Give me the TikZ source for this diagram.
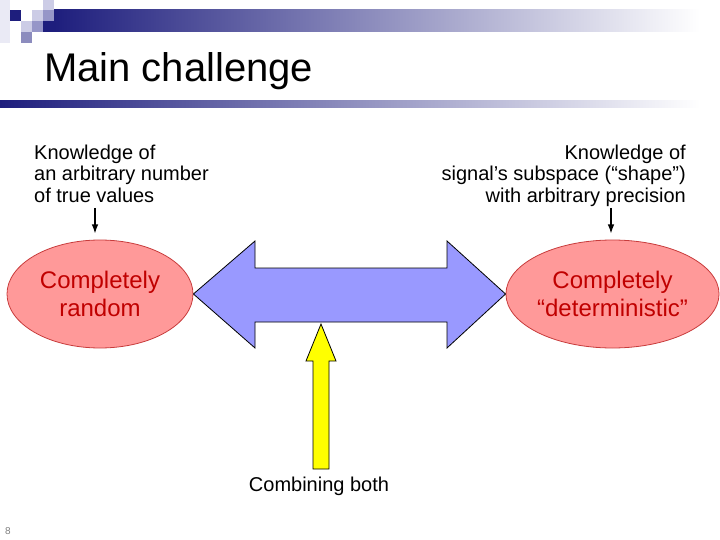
\documentclass[tikz,border=0pt]{standalone}
\usepackage{fontspec}
\setmainfont{Liberation Sans}
\usetikzlibrary{shapes.geometric,arrows.meta}
\definecolor{navy}{RGB}{30,30,125}
\definecolor{lav}{RGB}{204,204,230}
\definecolor{midlav}{RGB}{150,150,200}
\definecolor{greylav}{RGB}{140,140,190}
\definecolor{pale}{RGB}{234,234,245}
\definecolor{ellfill}{RGB}{255,153,153}
\definecolor{elldraw}{RGB}{200,60,60}
\definecolor{elltext}{RGB}{192,0,0}
\definecolor{bluearr}{RGB}{153,153,255}
\definecolor{yellarr}{RGB}{255,255,0}
\begin{document}
\begin{tikzpicture}[x=1pt,y=-1pt,
  ell/.style={ellipse,draw=elldraw,line width=0.8pt,fill=ellfill,inner sep=0pt,
    text=elltext,align=center,font=\fontsize{24}{28}\selectfont},
  know/.style={inner sep=0pt,font=\fontsize{20}{21.5}\selectfont},
  smallarr/.style={line width=1.2pt,-{Latex[length=9pt,width=6.5pt]}},
  bigarr/.style={draw=black,line width=0.8pt,line join=miter}]
\useasboundingbox (0,0) rectangle (720,540);
% header decoration
\fill[pale] (0,0) rectangle (10,43);
\fill[navy] (10,10) rectangle (21,21);
\fill[lav] (32,10) rectangle (43,21);
\fill[lav] (43,0) rectangle (54,10);
\fill[midlav] (43,10) rectangle (54,21);
\fill[lav] (21,21) rectangle (32,32);
\fill[midlav] (32,21) rectangle (43,32);
\fill[navy] (43,21) rectangle (54,32);
\fill[greylav] (21,32) rectangle (32,43);
\shade[left color=navy,right color=white] (54,10) rectangle (700,32);
\shade[left color=navy,right color=white] (0,101) rectangle (700,108);
% title
\node[anchor=base west,inner sep=0pt,font=\fontsize{40}{44}\selectfont] (title) at (44,82) {Main challenge};
% knowledge texts
\node[know,anchor=north west,align=left] (lt) at (34,144.5) {Knowledge of\\an arbitrary number\\of true values};
\node[know,anchor=north east,align=right] (rt) at (686,144.5) {Knowledge of\\signal’s subspace (“shape”)\\with arbitrary precision};
% ellipses
\node[ell,minimum width=186pt,minimum height=108pt] (le) at (100,294) {Completely\\random};
\node[ell,minimum width=205pt,minimum height=108pt] (re) at (612.5,294) {Completely\\“deterministic”};
% small arrows
\coordinate (la) at (95,208);
\coordinate (ra) at (611,208);
\draw[smallarr] (la) -- (95,233.5);
\draw[smallarr] (ra) -- (611,233.5);
% double arrow
\draw[bigarr,fill=bluearr] (le.east) -- (255,241) -- (255,268) -- (447,268) -- (447,241)
  -- (re.west) -- (447,348) -- (447,322) -- (255,322) -- (255,348) -- cycle;
% yellow arrow
\coordinate (ytip) at (321,324);
\draw[bigarr,fill=yellarr] (ytip) -- (336,361) -- (329,361) -- (329,469) -- (313,469)
  -- (313,361) -- (306,361) -- cycle;
% caption
\node[know,anchor=base] (comb) at (319,491) {Combining both};
% page number
\node[anchor=base west,inner sep=0pt,text=gray,font=\fontsize{10}{12}\selectfont] (pg) at (5,534) {8};
\end{tikzpicture}
\end{document}
